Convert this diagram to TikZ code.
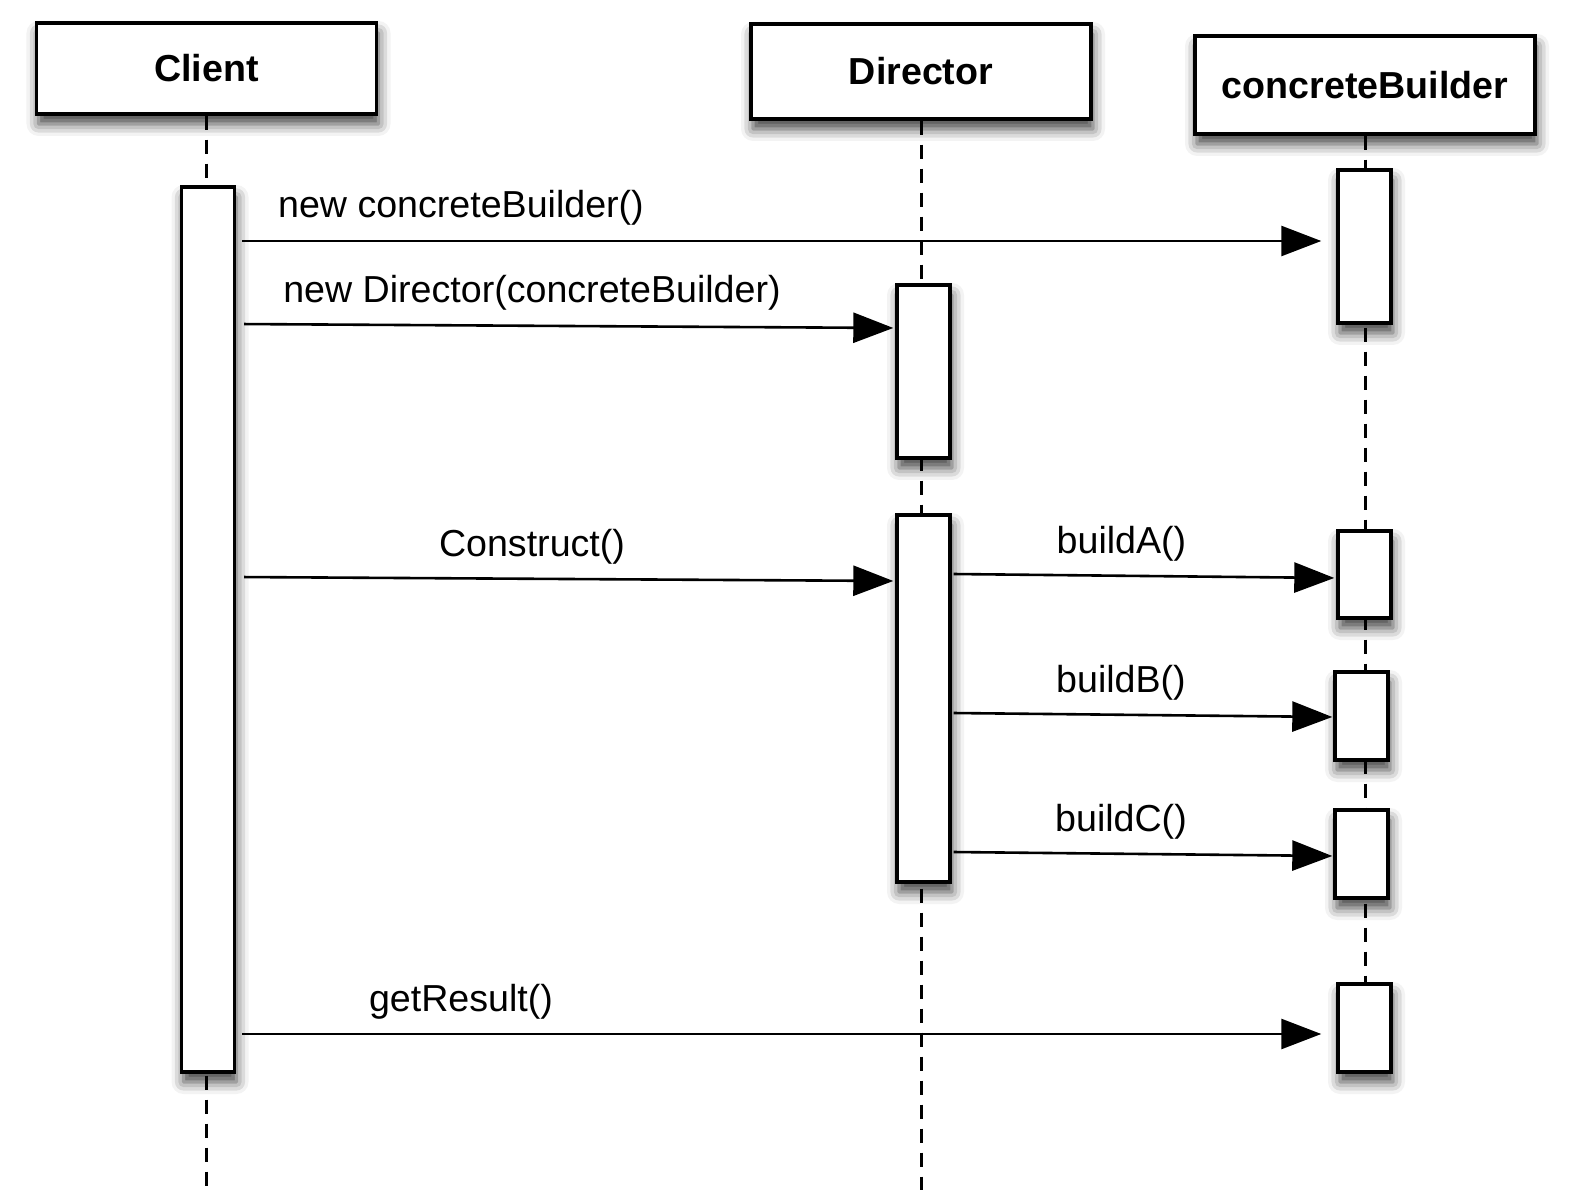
\documentclass[tikz,border=0pt]{standalone}
\usepackage{fontspec}
\setmainfont{Liberation Sans}
\usetikzlibrary{arrows.meta,positioning,shadows.blur}

\begin{document}
\begin{tikzpicture}[
    x=0.5pt, y=-0.5pt,
    box/.style={draw, line width=1.7pt, fill=white, inner sep=0pt,
        blur shadow={shadow xshift=1pt, shadow yshift=-5pt, shadow blur radius=6pt, shadow opacity=75}},
    header/.style={box, minimum width=170pt, font=\fontsize{18.8}{22}\selectfont\bfseries},
    act/.style={box, minimum width=26.5pt},
    lifeline/.style={line width=1.5pt, dash pattern=on 7pt off 5pt},
    msg/.style={line width=1.3pt, -{Triangle[length=20pt,width=15pt]}},
    lbl/.style={font=\fontsize{18.8}{22}\selectfont, inner sep=0pt, anchor=base}
]
\useasboundingbox (0,0) rectangle (1571,1202);

% Objects
\node[header, minimum height=45.5pt] (client) at (206.5, 68.5) {Client};
\node[header, minimum height=47.5pt] (director) at (921, 71.5) {Director};
\node[header, minimum height=49pt] (builder) at (1365, 85) {concreteBuilder};

% Lifelines
\draw[lifeline] (client.south) -- (client.south |- 0,1190);
\draw[lifeline] (director.south) -- (director.south |- 0,1190);
\draw[lifeline] (builder.south) -- (builder.south |- 0,1072);

% Activations
\node[act, minimum height=442.5pt] (c1) at (208, 629.5) {};
\node[act, minimum height=86.5pt] (d1) at (923.5, 371.5) {};
\node[act, minimum height=183.5pt] (d2) at (923.5, 698.5) {};
\node[act, minimum height=76.5pt] (b1) at (1364.5, 246.5) {};
\node[act, minimum height=43.5pt] (b2) at (1364.5, 574.5) {};
\node[act, minimum height=44pt] (b3) at (1361.5, 716) {};
\node[act, minimum height=44pt] (b4) at (1361.5, 854) {};
\node[act, minimum height=44pt] (b5) at (1364.5, 1028) {};

% Messages
\draw[msg, shorten <=3pt, shorten >=7.5pt] (c1.east |- 0,241) -- (b1.west |- 0,241);
\node[lbl] (l1) at (461, 218) {new concreteBuilder()};

\draw[msg, shorten <=4pt, shorten >=1pt] (c1.east |- 0,324) -- (d1.west |- 0,328);
\node[lbl] (l2) at (532, 303) {new Director(concreteBuilder)};

\draw[msg, shorten <=4pt, shorten >=1pt] (c1.east |- 0,577) -- (d2.west |- 0,581);
\node[lbl] (l3) at (532, 557) {Construct()};

\draw[msg, shorten <=1pt, shorten >=1pt] (d2.east |- 0,574) -- (b2.west |- 0,578);
\node[lbl] (l4) at (1121.5, 554) {buildA()};

\draw[msg, shorten <=1pt, shorten >=0.5pt] (d2.east |- 0,713) -- (b3.west |- 0,717);
\node[lbl] (l5) at (1121, 693) {buildB()};

\draw[msg, shorten <=1pt, shorten >=0.5pt] (d2.east |- 0,852) -- (b4.west |- 0,856);
\node[lbl] (l6) at (1121, 832) {buildC()};

\draw[msg, shorten <=3pt, shorten >=7.5pt] (c1.east |- 0,1034) -- (b5.west |- 0,1034);
\node[lbl] (l7) at (461, 1012) {getResult()};

\end{tikzpicture}
\end{document}
